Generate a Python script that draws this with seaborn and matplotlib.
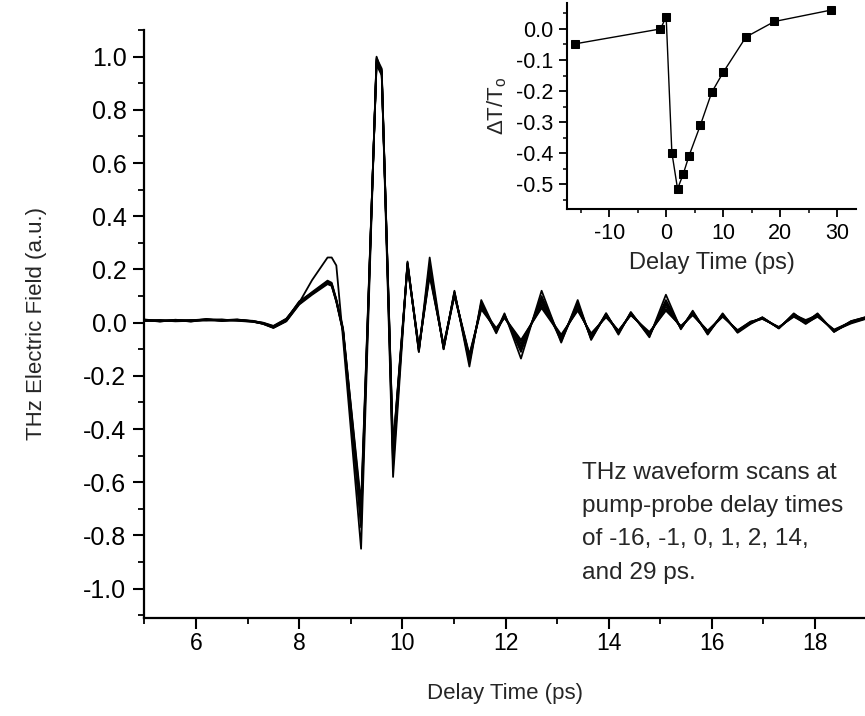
import numpy as np
import pandas as pd
import matplotlib
matplotlib.use("Agg")
import matplotlib.pyplot as plt
import seaborn as sns
from matplotlib.ticker import MultipleLocator

# ---------------- data ----------------
# waveform sample times (ps)
time_ps = [5.0, 5.3, 5.6, 5.9, 6.2, 6.5, 6.8, 7.1, 7.3, 7.5, 7.75, 8.0, 8.25,
           8.55, 8.63, 8.72, 8.85, 9.2, 9.5, 9.6, 9.82, 10.1, 10.32, 10.53,
           10.8, 11.01, 11.3, 11.53, 11.82, 11.98, 12.3, 12.7, 13.08, 13.4,
           13.66, 13.95, 14.19, 14.43, 14.79, 15.11, 15.4, 15.63, 15.92, 16.21,
           16.5, 16.75, 16.98, 17.3, 17.59, 17.82, 18.05, 18.37, 18.7, 19.0]

delays = ["29", "0", "-1", "-16", "14", "1", "2"]

field_29 = [0.012, 0.006, 0.010, 0.004, 0.012, 0.008, 0.011, 0.006, 0.000, -0.012,
            0.015, 0.075, 0.160, 0.245, 0.245, 0.215, -0.060, -0.850, 1.000, 0.940,
            -0.580, 0.225, -0.110, 0.245, -0.100, 0.120, -0.165, 0.085, -0.035, 0.035,
            -0.135, 0.120, -0.075, 0.085, -0.065, 0.035, -0.045, 0.040, -0.055, 0.105,
            -0.025, 0.045, -0.045, 0.035, -0.038, -0.005, 0.020, -0.022, 0.035, 0.000,
            0.035, -0.035, 0.005, 0.022]
field_0 = [0.008, 0.010, 0.006, 0.008, 0.009, 0.011, 0.008, 0.004, -0.004, -0.018,
           0.008, 0.072, 0.110, 0.150, 0.140, 0.080, -0.030, -0.770, 0.985, 0.950,
           -0.500, 0.220, -0.100, 0.200, -0.095, 0.115, -0.150, 0.070, -0.030, 0.030,
           -0.110, 0.100, -0.065, 0.075, -0.060, 0.030, -0.040, 0.035, -0.050, 0.085,
           -0.020, 0.040, -0.040, 0.030, -0.035, 0.000, 0.018, -0.020, 0.030, 0.005,
           0.030, -0.033, 0.000, 0.018]
field_m1 = [0.010, 0.004, 0.011, 0.006, 0.014, 0.006, 0.010, 0.007, -0.002, -0.015,
            0.012, 0.080, 0.112, 0.155, 0.145, 0.085, -0.025, -0.680, 0.970, 0.930,
            -0.470, 0.210, -0.095, 0.175, -0.085, 0.105, -0.120, 0.055, -0.020, 0.020,
            -0.065, 0.055, -0.050, 0.050, -0.045, 0.025, -0.030, 0.030, -0.040, 0.050,
            -0.015, 0.030, -0.030, 0.025, -0.030, 0.004, 0.015, -0.018, 0.025, -0.005,
            0.025, -0.028, 0.004, 0.020]
field_m16 = [0.006, 0.008, 0.007, 0.010, 0.008, 0.009, 0.012, 0.005, -0.005, -0.020,
             0.005, 0.068, 0.105, 0.145, 0.138, 0.078, -0.035, -0.740, 0.990, 0.945,
             -0.540, 0.230, -0.105, 0.220, -0.100, 0.110, -0.140, 0.065, -0.035, 0.025,
             -0.090, 0.080, -0.060, 0.065, -0.055, 0.030, -0.035, 0.035, -0.045, 0.070,
             -0.020, 0.035, -0.038, 0.030, -0.033, -0.002, 0.020, -0.020, 0.030, 0.010,
             0.028, -0.030, -0.003, 0.015]
field_14 = [0.011, 0.005, 0.009, 0.005, 0.011, 0.012, 0.007, 0.003, -0.003, -0.016,
            0.010, 0.078, 0.115, 0.158, 0.150, 0.088, -0.020, -0.700, 0.975, 0.935,
            -0.480, 0.215, -0.100, 0.185, -0.090, 0.100, -0.125, 0.050, -0.025, 0.018,
            -0.070, 0.060, -0.045, 0.045, -0.040, 0.020, -0.030, 0.028, -0.035, 0.045,
            -0.012, 0.028, -0.032, 0.022, -0.028, 0.003, 0.014, -0.016, 0.022, -0.002,
            0.022, -0.026, 0.002, 0.017]
field_1 = [0.009, 0.009, 0.005, 0.007, 0.010, 0.007, 0.009, 0.006, -0.001, -0.014,
           0.014, 0.074, 0.108, 0.148, 0.142, 0.082, -0.030, -0.760, 0.995, 0.955,
           -0.520, 0.225, -0.110, 0.210, -0.095, 0.115, -0.145, 0.075, -0.040, 0.030,
           -0.100, 0.090, -0.070, 0.070, -0.060, 0.035, -0.040, 0.038, -0.050, 0.075,
           -0.022, 0.040, -0.042, 0.032, -0.036, 0.001, 0.019, -0.021, 0.033, 0.004,
           0.032, -0.034, 0.006, 0.021]
field_2 = [0.007, 0.007, 0.010, 0.009, 0.013, 0.010, 0.011, 0.004, -0.004, -0.019,
           0.006, 0.070, 0.110, 0.152, 0.146, 0.084, -0.028, -0.720, 0.980, 0.940,
           -0.465, 0.220, -0.090, 0.190, -0.085, 0.108, -0.130, 0.060, -0.030, 0.022,
           -0.080, 0.070, -0.055, 0.055, -0.050, 0.028, -0.035, 0.032, -0.042, 0.060,
           -0.018, 0.033, -0.035, 0.027, -0.031, -0.003, 0.016, -0.019, 0.027, 0.000,
           0.026, -0.030, 0.001, 0.016]

fields = [field_29, field_0, field_m1, field_m16, field_14, field_1, field_2]

main_yticks = [-1.0, -0.8, -0.6, -0.4, -0.2, 0.0, 0.2, 0.4, 0.6, 0.8, 1.0]
main_yticklabels = ["-1.0", "-0.8", "-0.6", "-0.4", "-0.2", "0.0",
                    "0.2", "0.4", "0.6", "0.8", "1.0"]

# inset: differential transmission vs pump-probe delay
pp_delay = [-16, -1, 0, 1, 2, 3, 4, 6, 8, 10, 14, 19, 29]
dT_T = [-0.048, 0.000, 0.039, -0.398, -0.515, -0.467, -0.409, -0.310, -0.204,
        -0.140, -0.026, 0.024, 0.061]
inset_yticks = [0.0, -0.1, -0.2, -0.3, -0.4, -0.5]
inset_yticklabels = ["0.0", "-0.1", "-0.2", "-0.3", "-0.4", "-0.5"]
inset_xticks = [-10, 0, 10, 20, 30]
inset_xticklabels = ["-10", "0", "10", "20", "30"]

# ---------------- style ----------------
sns.set_theme(style="ticks")
plt.rcParams["font.family"] = ["Liberation Sans", "DejaVu Sans"]
plt.rcParams["mathtext.fontset"] = "custom"
plt.rcParams["mathtext.rm"] = "Liberation Sans"
plt.rcParams["mathtext.it"] = "Liberation Sans:italic"
plt.rcParams["axes.unicode_minus"] = False

wave_df = pd.concat(
    [pd.DataFrame({"time": time_ps, "field": f, "delay": d}) for f, d in zip(fields, delays)],
    ignore_index=True)
inset_df = pd.DataFrame({"delay": pp_delay, "dT": dT_T})

fig = plt.figure(figsize=(8.65, 7.16), dpi=100)
ax = fig.add_axes([0.167, 0.137, 0.833, 0.821])

sns.lineplot(data=wave_df, x="time", y="field", units="delay", estimator=None,
             color="black", lw=1.3, ax=ax, legend=False)

ax.set_xlim(5, 18.97)
ax.set_ylim(-1.11, 1.10)
ax.xaxis.set_major_locator(MultipleLocator(2))
ax.xaxis.set_minor_locator(MultipleLocator(1))
ax.set_yticks(main_yticks)
ax.set_yticklabels(main_yticklabels)
ax.yaxis.set_minor_locator(MultipleLocator(0.1))
for s in ["top", "right"]:
    ax.spines[s].set_visible(False)
for s in ["left", "bottom"]:
    ax.spines[s].set_linewidth(1.6)
    ax.spines[s].set_color("black")
ax.tick_params(which="major", direction="out", length=8, width=1.5,
               colors="black", pad=5)
ax.tick_params(axis="y", which="major", labelsize=18)
ax.tick_params(axis="x", which="major", labelsize=16.5, pad=2)
ax.tick_params(which="minor", direction="out", length=4, width=1.3, colors="black")
ax.set_xlabel("Delay Time (ps)", fontsize=16, labelpad=20)
ax.set_ylabel("THz Electric Field (a.u.)", fontsize=16, labelpad=26)

ax.text(13.49, -0.752,
        "THz waveform scans at\npump-probe delay times\nof -16, -1, 0, 1, 2, 14,\nand 29 ps.",
        fontsize=17.6, ha="left", va="center", linespacing=1.66)

# inset
axi = fig.add_axes([0.6555, 0.708, 0.334, 0.288])
sns.lineplot(data=inset_df, x="delay", y="dT", color="black", lw=1.0, marker="s",
             markersize=6, markeredgecolor="black", ax=axi, legend=False)
axi.set_xlim(-17.4, 33.3)
axi.set_ylim(-0.58, 0.084)
axi.set_xticks(inset_xticks)
axi.set_xticklabels(inset_xticklabels)
axi.xaxis.set_minor_locator(MultipleLocator(5))
axi.set_yticks(inset_yticks)
axi.set_yticklabels(inset_yticklabels)
axi.yaxis.set_minor_locator(MultipleLocator(0.05))
for s in ["top", "right"]:
    axi.spines[s].set_visible(False)
for s in ["left", "bottom"]:
    axi.spines[s].set_linewidth(1.5)
    axi.spines[s].set_color("black")
axi.tick_params(which="major", direction="out", length=6, width=1.3, labelsize=15.5,
                colors="black", pad=4)
axi.tick_params(which="minor", direction="out", length=3, width=1.1, colors="black")
axi.set_xlabel("Delay Time (ps)", fontsize=17, labelpad=6)
axi.set_ylabel("\u0394T/T$_{\\mathrm{o}}$", fontsize=16, labelpad=5)
axi.patch.set_alpha(0)

fig.savefig("out.png", dpi=100)
